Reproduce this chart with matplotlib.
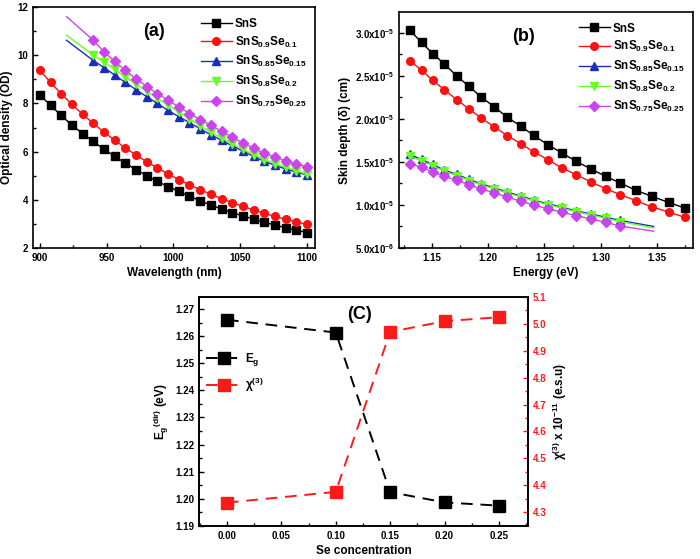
import matplotlib
matplotlib.use('Agg')
import matplotlib.pyplot as plt
from matplotlib.ticker import MultipleLocator, AutoMinorLocator, FuncFormatter

plt.rcParams['font.family'] = ['Liberation Sans', 'DejaVu Sans']
plt.rcParams['font.weight'] = 'bold'
plt.rcParams['axes.labelweight'] = 'bold'
plt.rcParams['mathtext.fontset'] = 'custom'
plt.rcParams['mathtext.rm'] = 'Liberation Sans:bold'
plt.rcParams['mathtext.bf'] = 'Liberation Sans:bold'
plt.rcParams['mathtext.it'] = 'Liberation Sans:bold'
plt.rcParams['mathtext.default'] = 'bf'
plt.rcParams['axes.linewidth'] = 1.2

labels = ['SnS', r'SnS$_{0.9}$Se$_{0.1}$', r'SnS$_{0.85}$Se$_{0.15}$',
          r'SnS$_{0.8}$Se$_{0.2}$', r'SnS$_{0.75}$Se$_{0.25}$']
colors = ['#000000', '#ff1010', '#1a2fb8', '#66ff22', '#cc44ee']
markers = ['s', 'o', '^', 'v', 'D']

# ---- panel (a): optical density vs wavelength
wl_full = list(range(900, 1101, 8))
od_sns = [8.35, 7.92, 7.50, 7.10, 6.75, 6.42, 6.10, 5.80, 5.52, 5.25, 5.00, 4.76, 4.55,
          4.35, 4.15, 3.96, 3.78, 3.62, 3.47, 3.33, 3.20, 3.07, 2.95, 2.84, 2.74, 2.64]
od_se10 = [9.38, 8.87, 8.40, 7.96, 7.55, 7.17, 6.81, 6.47, 6.15, 5.86, 5.58, 5.32, 5.07,
           4.84, 4.62, 4.42, 4.23, 4.05, 3.88, 3.73, 3.58, 3.44, 3.31, 3.19, 3.08, 2.98]
# the Se-rich curves start at 920 nm (line only), markers from 940 nm
wl_part = [920] + list(range(940, 1101, 8))
od_se15 = [10.62, 9.78, 9.49, 9.18, 8.87, 8.57, 8.28, 8.00, 7.71, 7.45, 7.20, 6.95,
           6.70, 6.47, 6.24, 6.02, 5.80, 5.60, 5.43, 5.28, 5.15, 5.03]
od_se20 = [10.83, 10.00, 9.72, 9.41, 9.10, 8.80, 8.50, 8.21, 7.93, 7.65, 7.37, 7.08,
           6.80, 6.56, 6.32, 6.10, 5.87, 5.67, 5.49, 5.35, 5.20, 5.06]
od_se25 = [11.60, 10.62, 10.14, 9.74, 9.37, 9.02, 8.70, 8.41, 8.13, 7.86, 7.58, 7.33,
           7.10, 6.84, 6.60, 6.36, 6.14, 5.94, 5.77, 5.62, 5.48, 5.37]

# ---- panel (b): skin depth vs energy (units of 1e-5 cm)
en_full = [1.1304, 1.1408, 1.1506, 1.1610, 1.1720, 1.1829, 1.1936, 1.2054, 1.2169,
           1.2290, 1.2405, 1.2531, 1.2655, 1.2782, 1.2913, 1.3043, 1.3173, 1.3313,
           1.3455, 1.3603, 1.3745]
sd_sns = [3.03, 2.89, 2.76, 2.64, 2.50, 2.38, 2.256, 2.14, 2.02, 1.915, 1.808, 1.70,
          1.605, 1.507, 1.419, 1.333, 1.256, 1.170, 1.10, 1.03, 0.965]
sd_se10 = [2.678, 2.565, 2.449, 2.34, 2.224, 2.116, 2.012, 1.907, 1.806, 1.713, 1.616,
           1.527, 1.43, 1.352, 1.267, 1.19, 1.12, 1.05, 0.977, 0.919, 0.856]
en_part = en_full[:17] + [1.347]
sd_se15 = [1.587, 1.529, 1.471, 1.405, 1.355, 1.297, 1.245, 1.200, 1.149, 1.105, 1.055,
           1.013, 0.974, 0.930, 0.895, 0.858, 0.820, 0.750]
sd_se20 = [1.565, 1.510, 1.455, 1.390, 1.340, 1.283, 1.232, 1.187, 1.137, 1.093, 1.045,
           1.003, 0.963, 0.920, 0.884, 0.845, 0.807, 0.733]
sd_se25 = [1.480, 1.437, 1.384, 1.333, 1.286, 1.236, 1.186, 1.140, 1.093, 1.042, 0.998,
           0.958, 0.914, 0.876, 0.837, 0.798, 0.755, 0.695]

# ---- panel (c)
se_conc = [0.00, 0.10, 0.15, 0.20, 0.25]
eg_dir = [1.2660, 1.2613, 1.2025, 1.1987, 1.1975]
chi3 = [4.335, 4.375, 4.970, 5.010, 5.025]

fig = plt.figure(figsize=(7, 5.59), dpi=100)
ax_a = fig.add_axes([0.047, 0.5564, 0.403, 0.431])
ax_b = fig.add_axes([0.570, 0.5564, 0.420, 0.4222])
ax_c = fig.add_axes([0.2843, 0.059, 0.470, 0.4097])

tick_fs = 7
lab_fs = 8.5
leg_fs = 8.5


def style(ax):
    ax.tick_params(direction='in', which='both', labelsize=tick_fs, width=1)
    ax.tick_params(which='major', length=3.5)
    ax.tick_params(which='minor', length=2)
    ax.xaxis.set_minor_locator(AutoMinorLocator(2))
    ax.yaxis.set_minor_locator(AutoMinorLocator(2))


# panel (a)
a_series = [(wl_full, od_sns, 0), (wl_full, od_se10, 0), (wl_part, od_se15, 1),
            (wl_part, od_se20, 1), (wl_part, od_se25, 1)]
for i, (x, y, start) in enumerate(a_series):
    ax_a.plot(x, y, color=colors[i], marker=markers[i], ms=5.5 if markers[i] != 'D' else 5,
              lw=1, markevery=slice(start, None), label=labels[i])
ax_a.set_xlim(894.8, 1106)
ax_a.set_ylim(2, 12)
ax_a.xaxis.set_major_locator(MultipleLocator(50))
ax_a.yaxis.set_major_locator(MultipleLocator(2))
style(ax_a)
ax_a.set_xlabel('Wavelength (nm)', fontsize=lab_fs, labelpad=3)
ax_a.set_ylabel('Optical density (OD)', fontsize=lab_fs, labelpad=3)
ax_a.text(0.39, 0.88, '(a)', transform=ax_a.transAxes, fontsize=13, fontweight='bold')
ax_a.legend(loc='upper right', bbox_to_anchor=(1.0, 0.99), frameon=False, fontsize=leg_fs,
            handlelength=2.6, labelspacing=0.4, handletextpad=0.3, borderaxespad=0.3)

# panel (b)
b_series = [(en_full, sd_sns, 21), (en_full, sd_se10, 21), (en_part, sd_se15, 17),
            (en_part, sd_se20, 17), (en_part, sd_se25, 17)]
for i, (x, y, n) in enumerate(b_series):
    ax_b.plot(x, [v * 1e-5 for v in y], color=colors[i], marker=markers[i],
              ms=5.5 if markers[i] != 'D' else 5, lw=1, markevery=slice(0, n), label=labels[i])
ax_b.set_xlim(1.1207, 1.382)
ax_b.set_ylim(5e-6, 3.244e-5)
ax_b.xaxis.set_major_locator(MultipleLocator(0.05))
ax_b.yaxis.set_major_locator(MultipleLocator(5e-6))


def sci_fmt(v, pos):
    if v <= 0:
        return ''
    exp = 0
    m = v
    while m < 1 - 1e-9:
        m *= 10
        exp -= 1
    return r'$%.1f\mathrm{x}10^{%d}$' % (m, exp)


ax_b.yaxis.set_major_formatter(FuncFormatter(sci_fmt))
ax_b.xaxis.set_major_formatter(FuncFormatter(lambda v, p: '%.2f' % v))
style(ax_b)
ax_b.set_xlabel('Energy (eV)', fontsize=lab_fs, labelpad=3)
ax_b.set_ylabel('Skin depth (δ) (cm)', fontsize=lab_fs, labelpad=3)
ax_b.text(0.385, 0.875, '(b)', transform=ax_b.transAxes, fontsize=13, fontweight='bold')
ax_b.legend(loc='upper right', bbox_to_anchor=(1.0, 0.99), frameon=False, fontsize=leg_fs,
            handlelength=2.6, labelspacing=0.4, handletextpad=0.3, borderaxespad=0.3)

# panel (c)
l1, = ax_c.plot(se_conc, eg_dir, color='black', ls=(0, (6, 4)), lw=1.4, marker='s', ms=8,
                label=r'E$_{g}$')
ax_c.set_xlim(-0.0257, 0.2767)
ax_c.set_ylim(1.19, 1.2744)
ax_c.xaxis.set_major_locator(MultipleLocator(0.05))
ax_c.yaxis.set_major_locator(MultipleLocator(0.01))
ax_c.xaxis.set_major_formatter(FuncFormatter(lambda v, p: '%.2f' % v))
ax_c.yaxis.set_major_formatter(FuncFormatter(lambda v, p: '%.2f' % v))
style(ax_c)
ax_c.set_xlabel('Se concentration', fontsize=lab_fs, labelpad=3)
ax_c.set_ylabel(r'E$_{g}$$^{(dir)}$ (eV)', fontsize=lab_fs, labelpad=3)

ax_r = ax_c.twinx()
l2, = ax_r.plot(se_conc, chi3, color='#ff1a1a', ls=(0, (6, 4)), lw=1.4, marker='s', ms=8,
                label=r'$\chi^{(3)}$')
ax_r.set_ylim(4.248, 5.1)
ax_r.yaxis.set_major_locator(MultipleLocator(0.1))
ax_r.yaxis.set_minor_locator(AutoMinorLocator(2))
ax_r.yaxis.set_major_formatter(FuncFormatter(lambda v, p: '%.1f' % v))
ax_r.tick_params(direction='in', which='both', labelsize=tick_fs, colors='#ff1a1a', width=1)
ax_r.tick_params(which='major', length=3.5)
ax_r.tick_params(which='minor', length=2)
ax_r.set_ylabel(r'$\chi^{(3)}$ x 10$^{-11}$ (e.s.u)', fontsize=lab_fs, labelpad=3)
ax_c.text(0.45, 0.905, '(C)', transform=ax_c.transAxes, fontsize=13, fontweight='bold')
ax_c.legend([l1, l2], [l1.get_label(), l2.get_label()], loc='center left',
            bbox_to_anchor=(0.0, 0.67), frameon=False, fontsize=leg_fs,
            handlelength=3.0, labelspacing=0.6, handletextpad=0.3, borderaxespad=0.2)

fig.savefig('out.png', dpi=100)
